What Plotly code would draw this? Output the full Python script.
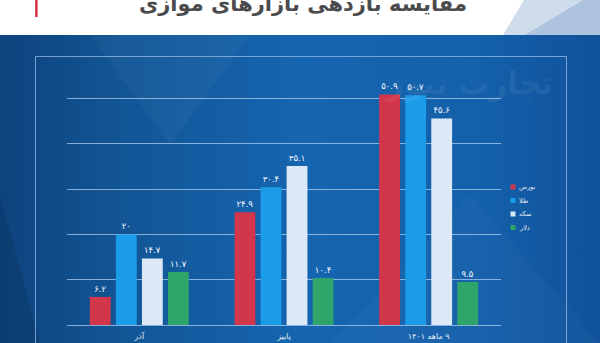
import base64
import plotly.graph_objects as go

# ---------------- data ----------------
categories = ["آذر", "پاییز", "۹ ماهه ۱۴۰۱"]
series_names = ["بورس", "طلا", "سکه", "دلار"]
bourse = [6.2, 24.9, 50.9]
gold = [20.0, 30.4, 50.7]
coin = [14.7, 35.1, 45.6]
dollar = [11.7, 10.4, 9.5]
series_values = [bourse, gold, coin, dollar]
series_colors = ["#d2364a", "#1b9ce9", "#dce8f6", "#2fa46b"]

title_text = "مقایسه بازدهی بازارهای موازی"
watermark_text = "تجارت نیوز"

# ---------------- helpers ----------------
FA_DIGITS = str.maketrans("0123456789", "۰۱۲۳۴۵۶۷۸۹")
RLE, PDF = "\u202b", "\u202c"


def fa_num(v):
    s = ("%.1f" % v).rstrip("0").rstrip(".")
    return s.translate(FA_DIGITS)


def rtl(s):
    return RLE + s + PDF


W, H = 600, 343
L, R, T, B = 67, 501, 60, 325
PW, PH = R - L, B - T


def px(x):
    return (x - L) / PW


def py(y):
    return (B - y) / PH


# ---------------- figure ----------------
fig = go.Figure()
for name, vals, col in zip(series_names, series_values, series_colors):
    fig.add_trace(go.Bar(
        name=name, x=[rtl(c) for c in categories], y=vals, marker_color=col,
        marker_line_width=0,
        text=[fa_num(v) for v in vals], textposition="outside",
        textfont=dict(family="DejaVu Sans", size=8.5, color="#f2f6fb"),
        cliponaxis=False, showlegend=False,
    ))

# background gradient as inline svg
svg = f'''<svg xmlns="http://www.w3.org/2000/svg" width="600" height="308" viewBox="0 0 600 308" preserveAspectRatio="none">
<defs><linearGradient id="g" x1="0" y1="0" x2="1" y2="0">
<stop offset="0" stop-color="#0e437d"/>
<stop offset="0.2" stop-color="#125595"/>
<stop offset="0.5" stop-color="#1665b0"/>
<stop offset="0.8" stop-color="#1460aa"/>
<stop offset="1" stop-color="#10529a"/>
</linearGradient></defs>
<rect x="0" y="0" width="600" height="308" fill="url(#g)"/>
<polygon points="0,160 40,308 0,308" fill="#0b3766" opacity="0.45"/>
<polygon points="90,0 250,0 170,110" fill="#ffffff" opacity="0.03"/>
<polygon points="330,308 470,160 600,308" fill="#ffffff" opacity="0.025"/>
</svg>'''
src = "data:image/svg+xml;base64," + base64.b64encode(svg.encode()).decode()
fig.add_layout_image(dict(
    source=src, xref="paper", yref="paper",
    x=px(0), y=py(35), sizex=W / PW, sizey=(H - 35) / PH,
    xanchor="left", yanchor="top", sizing="stretch", layer="below",
))

shapes = [
    dict(type="path", xref="paper", yref="paper",
         path=f"M {px(503)},{py(35)} L {px(524)},{py(0)} L {px(600)},{py(0)} L {px(600)},{py(35)} Z",
         fillcolor="#cfdcec", line_width=0, layer="below"),
    dict(type="path", xref="paper", yref="paper",
         path=f"M {px(525)},{py(35)} L {px(583)},{py(0)} L {px(600)},{py(0)} L {px(600)},{py(35)} Z",
         fillcolor="#aec3dd", line_width=0, layer="below"),
    dict(type="rect", xref="paper", yref="paper",
         x0=px(35.2), x1=px(37.6), y0=py(17), y1=py(0),
         fillcolor="#d8283a", line_width=0),
    dict(type="path", xref="paper", yref="paper",
         path=f"M {px(35.5)},{py(345)} L {px(35.5)},{py(56.5)} L {px(566.5)},{py(56.5)} L {px(566.5)},{py(345)}",
         line=dict(color="rgba(150,190,235,0.75)", width=1), layer="below"),
]

annotations = [
    dict(text=f"<b>{title_text}</b>", xref="paper", yref="paper",
         x=px(303), y=py(4.5), xanchor="center", yanchor="middle", showarrow=False,
         font=dict(family="DejaVu Sans", size=21, color="#4b4b4d")),
    dict(text=f"<b>{watermark_text}</b>", xref="paper", yref="paper",
         x=px(468), y=py(83), xanchor="center", yanchor="middle", showarrow=False,
         font=dict(family="DejaVu Sans", size=31, color="rgba(255,255,255,0.08)")),
]

# compact legend (markers + labels) built from the series lists
leg_x, leg_y0, leg_dy = 513, 187, 13.5
for i, (name, col) in enumerate(zip(series_names, series_colors)):
    yc = leg_y0 + i * leg_dy
    shapes.append(dict(type="rect", xref="paper", yref="paper",
                       x0=px(leg_x - 2.5), x1=px(leg_x + 2.5),
                       y0=py(yc + 2.5), y1=py(yc - 2.5),
                       fillcolor=col, line_width=0))
    annotations.append(dict(text=name, xref="paper", yref="paper",
                            x=px(leg_x + 4), y=py(yc), xanchor="left", yanchor="middle",
                            showarrow=False,
                            font=dict(family="DejaVu Sans", size=6.5, color="#e8eef7")))

fig.update_layout(
    width=W, height=H,
    margin=dict(l=L, r=W - R, t=T, b=H - B, pad=0, autoexpand=False),
    paper_bgcolor="white", plot_bgcolor="rgba(0,0,0,0)",
    barmode="group", bargap=0.28, bargroupgap=0.2,
    shapes=shapes, annotations=annotations,
    showlegend=False,
    xaxis=dict(showgrid=False, showline=False, zeroline=False, ticks="",
               tickfont=dict(family="DejaVu Sans", size=8, color="#e3ebf5"),
               ticklabelstandoff=5, automargin=False, fixedrange=True),
    yaxis=dict(range=[0, PH / 4.53], dtick=10, showticklabels=False,
               showgrid=True, gridcolor="rgba(175,205,240,0.75)", gridwidth=1.3,
               zeroline=True, zerolinecolor="rgba(175,205,240,0.75)", zerolinewidth=1.3,
               showline=False, ticks="", automargin=False),
    font=dict(family="DejaVu Sans"),
)

fig.write_html("out.html")
